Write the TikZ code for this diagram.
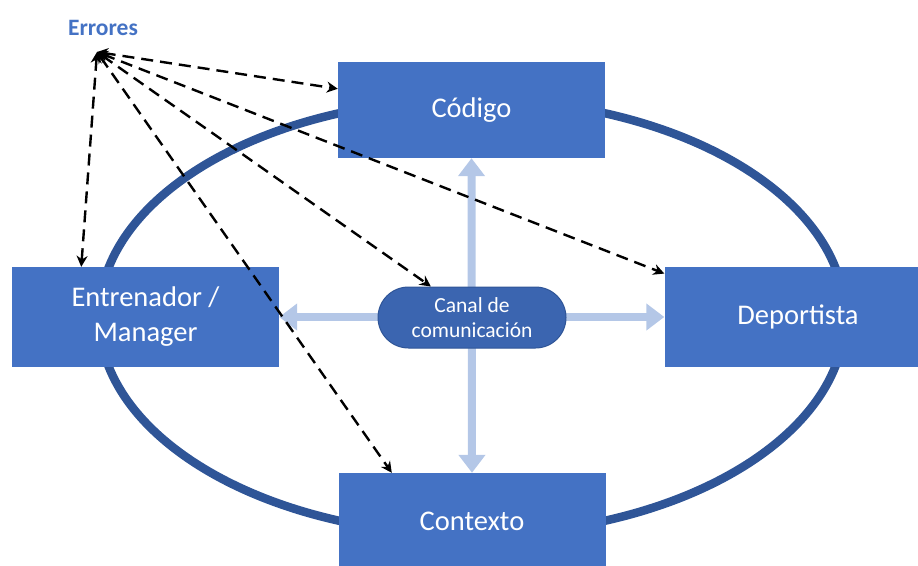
\documentclass[tikz,border=0pt]{standalone}
\usepackage{fontspec}
\setmainfont{Carlito}
\usetikzlibrary{arrows.meta,shapes.misc}
\definecolor{boxblue}{HTML}{4472C4}
\definecolor{ringblue}{HTML}{2F5597}
\definecolor{canalblue}{HTML}{3B65B0}
\definecolor{flowblue}{HTML}{B4C7E7}
\tikzset{
  actor/.style={fill=boxblue, text=white, inner sep=0pt, align=center,
    minimum width=267pt, minimum height=96pt, font=\fontsize{28.5}{35}\selectfont},
  flow/.style={draw=flowblue, line width=8pt,
    {Triangle[width=26pt,length=18pt]}-{Triangle[width=26pt,length=18pt]}},
  errarrow/.style={draw=black, line width=2.4pt, dash pattern=on 12pt off 7pt,
    {Stealth[length=11pt,width=11pt]}-{Stealth[length=11pt,width=11pt]}}
}
\begin{document}
\begin{tikzpicture}[x=1pt,y=-1pt]
  \useasboundingbox (0,0) rectangle (918,565);
  \clip (0,0) rectangle (918,565);
  % ring behind the boxes
  \draw[ringblue, line width=8.5pt] (472,317) ellipse [x radius=373, y radius=218];
  \node[actor] (codigo) at (471.5,110) {Código};
  \node[actor, minimum height=100pt] (entrenador) at (145.5,317) {Entrenador /\\Manager};
  \node[actor, minimum height=100pt] (deportista) at (798,317) {Deportista};
  \node[actor] (contexto) at (472,521) {Contexto};
  \draw[flow] (codigo.south) -- (contexto.north);
  \draw[flow] (entrenador.east) -- (deportista.west);
  \node[rounded rectangle, fill=canalblue, draw=ringblue, line width=1pt, text=white,
    minimum width=188pt, minimum height=61pt, inner sep=0pt, align=center,
    font=\fontsize{21.5}{25}\selectfont] (canal) at (472,317.5) {Canal de\\comunicación};
  % errores
  \node[text=boxblue, font=\fontsize{23.5}{28}\selectfont\bfseries] (errores) at (103,28) {Errores};
  \coordinate (src) at (97,52);
  \draw[errarrow] (src) -- (codigo.171);
  \draw[errarrow] (src) -- (entrenador.142);
  \draw[errarrow] (src) -- (canal.143);
  \draw[errarrow] (src) -- (deportista.162);
  \draw[errarrow] (src) -- (contexto.149);
\end{tikzpicture}
\end{document}
